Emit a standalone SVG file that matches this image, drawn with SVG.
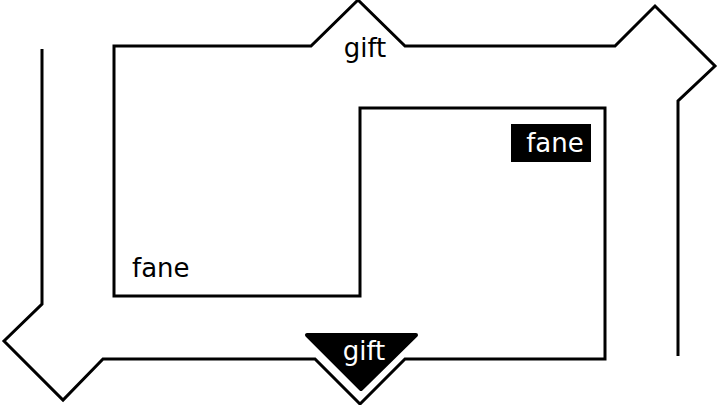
<svg xmlns="http://www.w3.org/2000/svg" width="720" height="405" viewBox="0 0 720 405">
<style>
.ln{fill:none;stroke:#000;stroke-width:3;stroke-linejoin:miter}
.t{font-family:"DejaVu Sans",sans-serif;font-size:26px}
</style>
<rect width="720" height="405" fill="#fff"/>
<g id="connectors">
<path class="ln" d="M42,49 L42,304 L4,341 L63,400 L103,359 L315,359 L360,404 L405,359 L605,359 L605,108 L360,108 L360,296 L114,296 L114,46 L311,46 L358,0 L405,46 L615,46 L655,6 L715,66 L678,101 L678,356"/>
</g>
<g id="gift-top">
<text class="t" x="365" y="57" text-anchor="middle">gift</text>
</g>
<g id="gift-bottom">
<path d="M307,335 L416,335 L361,389 Z" fill="#000" stroke="#000" stroke-width="4" stroke-linejoin="round"/>
<text class="t" x="364" y="360" text-anchor="middle" fill="#fff">gift</text>
</g>
<g id="fane-box">
<rect x="511" y="124" width="80" height="38" fill="#000"/>
<text class="t" x="555" y="152" text-anchor="middle" fill="#fff">fane</text>
</g>
<g id="fane-left">
<text class="t" x="132" y="277">fane</text>
</g>
</svg>
